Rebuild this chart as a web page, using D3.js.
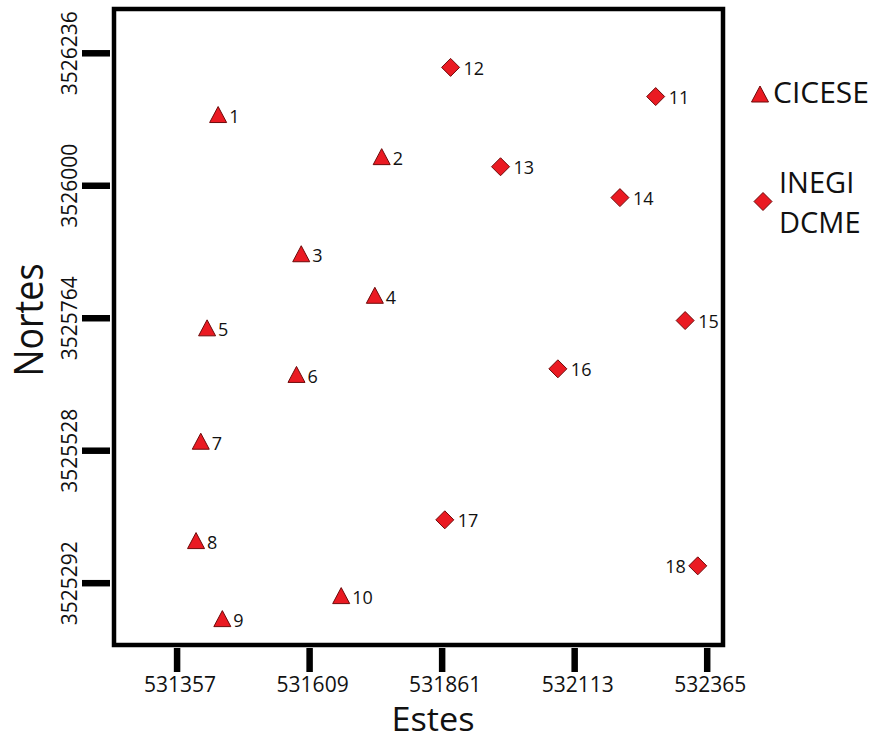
<!DOCTYPE html>
<html>
<head>
<meta charset="utf-8">
<script src="https://cdn.jsdelivr.net/npm/d3@7"></script>
<style>
  html, body { margin: 0; padding: 0; background: #fff; }
  svg { display: block; font-family: "Open Sans", "DejaVu Sans", sans-serif; }
</style>
</head>
<body>
<svg id="chart" width="879" height="742"></svg>
<script>
// ---- data ----
const ciceseIds   = [1, 2, 3, 4, 5, 6, 7, 8, 9, 10];
const ciceseEste  = [531436, 531747, 531594, 531734, 531415, 531585, 531403, 531394, 531444, 531670];
const ciceseNorte = [3526126, 3526051, 3525878, 3525804, 3525746, 3525663, 3525544, 3525367, 3525228, 3525269];

const inegiIds   = [11, 12, 13, 14, 15, 16, 17, 18];
const inegiEste  = [532268, 531878, 531973, 532200, 532324, 532082, 531867, 532348];
const inegiNorte = [3526158, 3526210, 3526033, 3525978, 3525759, 3525673, 3525404, 3525322];

const labelsOnLeft = [18];

const xTicks = [531357, 531609, 531861, 532113, 532365];
const yTicks = [3526236, 3526000, 3525764, 3525528, 3525292];

const seriesNames = ["CICESE", ["INEGI", "DCME"]];
const xTitle = "Estes";
const yTitle = "Nortes";

// ---- layout ----
const frame = { left: 114, right: 723, top: 9, bottom: 645 };
const x = d3.scaleLinear().domain([531238, 532396]).range([frame.left, frame.right]);
const y = d3.scaleLinear().domain([3525181, 3526314]).range([frame.bottom, frame.top]);

const svg = d3.select("#chart");
const FILL = "#ea1a22", STROKE = "#6e0a0a";

// frame
svg.append("rect")
  .attr("x", frame.left).attr("y", frame.top)
  .attr("width", frame.right - frame.left).attr("height", frame.bottom - frame.top)
  .attr("fill", "none").attr("stroke", "#000").attr("stroke-width", 4.5);

// x axis
const gx = svg.append("g")
  .attr("transform", `translate(0,${frame.bottom + 3})`)
  .call(d3.axisBottom(x).tickValues(xTicks).tickSize(24).tickPadding(5).tickFormat(d3.format("d")));
gx.select(".domain").remove();
gx.selectAll(".tick line").attr("stroke", "#000").attr("stroke-width", 6.5);
gx.selectAll(".tick text")
  .attr("font-size", 21).attr("fill", "#111")
  .attr("font-family", "'Open Sans', sans-serif").attr("dx", 3);

// y axis
const gy = svg.append("g")
  .attr("transform", `translate(${frame.left - 4},0)`)
  .call(d3.axisLeft(y).tickValues(yTicks).tickSize(28).tickFormat(d3.format("d")));
gy.select(".domain").remove();
gy.selectAll(".tick line").attr("stroke", "#000").attr("stroke-width", 6.5);
gy.selectAll(".tick text")
  .attr("x", null).attr("dy", null)
  .attr("transform", "translate(-33,0) rotate(-90)")
  .attr("text-anchor", "middle")
  .attr("font-size", 21).attr("fill", "#111")
  .attr("font-family", "'Open Sans', sans-serif");

// axis titles
svg.append("text")
  .attr("x", 433).attr("y", 731)
  .attr("text-anchor", "middle")
  .attr("font-size", 33).attr("fill", "#111")
  .attr("textLength", 83).attr("lengthAdjust", "spacingAndGlyphs")
  .text(xTitle);
svg.append("text")
  .attr("transform", "translate(43,320) rotate(-90)")
  .attr("text-anchor", "middle")
  .attr("font-size", 41).attr("fill", "#111")
  .attr("textLength", 113).attr("lengthAdjust", "spacingAndGlyphs")
  .text(yTitle);

// marker shapes
const triPath = (w, h) => `M0,${-h/2}L${w/2},${h/2}L${-w/2},${h/2}Z`;
const diaPath = (r) => `M0,${-r}L${r},0L0,${r}L${-r},0Z`;

const cicese = ciceseIds.map((id, i) => ({ id, e: ciceseEste[i], n: ciceseNorte[i] }));
const inegi = inegiIds.map((id, i) => ({ id, e: inegiEste[i], n: inegiNorte[i] }));

const gPts = svg.append("g");
gPts.selectAll("path.tri").data(cicese).join("path")
  .attr("class", "tri")
  .attr("transform", d => `translate(${x(d.e)},${y(d.n)})`)
  .attr("d", triPath(17, 16))
  .attr("fill", FILL).attr("stroke", STROKE).attr("stroke-width", 1);
gPts.selectAll("text.tri").data(cicese).join("text")
  .attr("class", "tri")
  .attr("x", d => x(d.e) + 11).attr("y", d => y(d.n) + 8.5)
  .attr("font-size", 18).attr("fill", "#111")
  .text(d => d.id);

gPts.selectAll("path.dia").data(inegi).join("path")
  .attr("class", "dia")
  .attr("transform", d => `translate(${x(d.e)},${y(d.n)})`)
  .attr("d", diaPath(9))
  .attr("fill", FILL).attr("stroke", STROKE).attr("stroke-width", 1);
gPts.selectAll("text.dia").data(inegi).join("text")
  .attr("class", "dia")
  .attr("x", d => labelsOnLeft.includes(d.id) ? x(d.e) - 12 : x(d.e) + 13)
  .attr("y", d => y(d.n) + 7.5)
  .attr("text-anchor", d => labelsOnLeft.includes(d.id) ? "end" : "start")
  .attr("font-size", 18).attr("fill", "#111")
  .text(d => d.id);

// legend
const lg = svg.append("g");
lg.append("path").attr("transform", "translate(760,94)").attr("d", triPath(17, 16))
  .attr("fill", FILL).attr("stroke", STROKE).attr("stroke-width", 1);
lg.append("text").attr("x", 773).attr("y", 103).attr("font-size", 30).attr("fill", "#111")
  .text(seriesNames[0]);
lg.append("path").attr("transform", "translate(763,201.5)").attr("d", diaPath(9))
  .attr("fill", FILL).attr("stroke", STROKE).attr("stroke-width", 1);
lg.append("text").attr("x", 779).attr("y", 193).attr("font-size", 29).attr("fill", "#111")
  .text(seriesNames[1][0]);
lg.append("text").attr("x", 779).attr("y", 233).attr("font-size", 29).attr("fill", "#111")
  .text(seriesNames[1][1]);
</script>
</body>
</html>
